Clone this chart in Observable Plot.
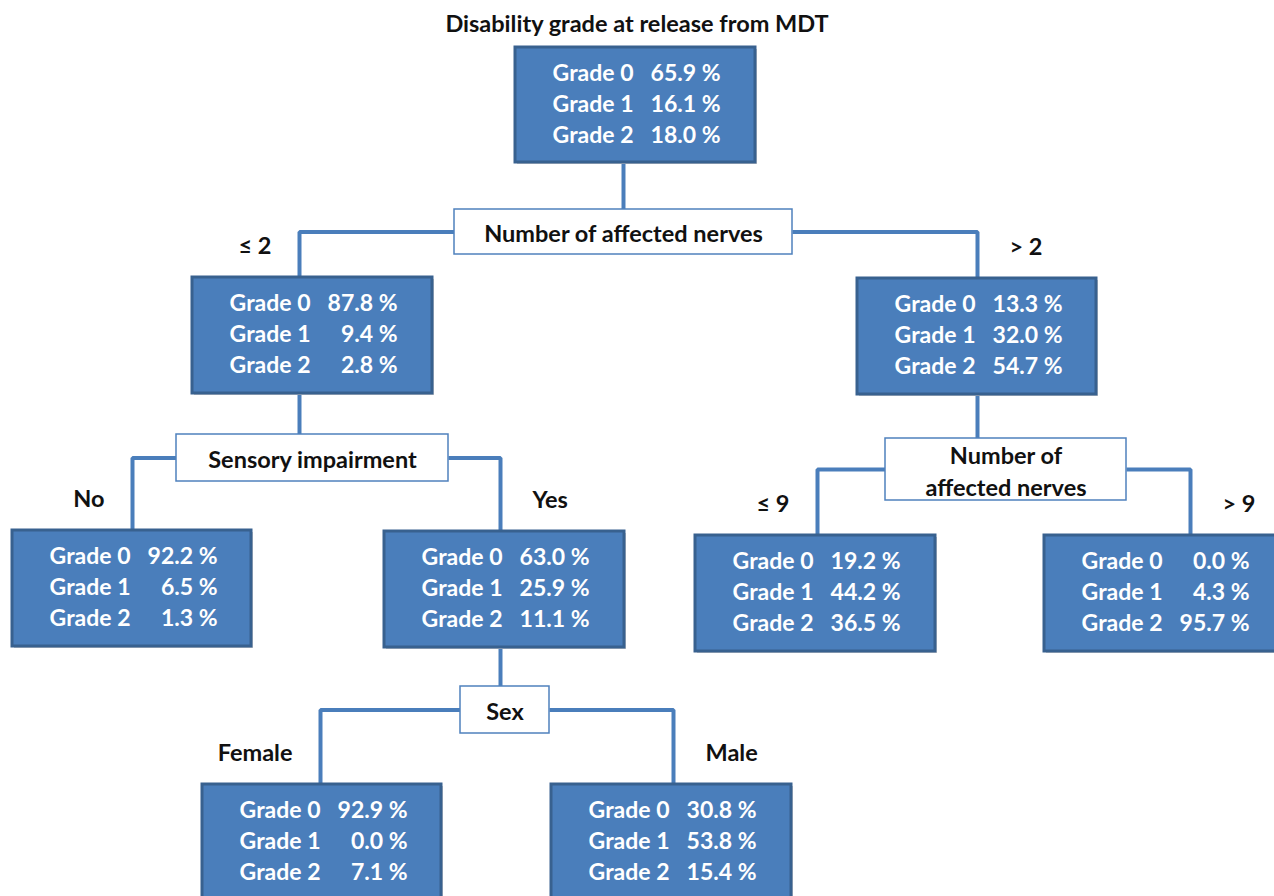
<!DOCTYPE html>
<html>
<head>
<meta charset="utf-8">
<script src="https://cdn.jsdelivr.net/npm/d3@7"></script>
<script src="https://cdn.jsdelivr.net/npm/@observablehq/plot@0.6"></script>
<style>
  html, body { margin: 0; padding: 0; background: white; overflow: hidden; }
  #title { width: 1274px; height: 40px; line-height: 46px; text-align: center;
           font-family: Lato, "Open Sans", sans-serif; font-weight: bold; font-size: 23.5px; color: #111; }
  #chart svg { overflow: visible; }
</style>
</head>
<body>
<div id="title">Disability grade at release from MDT</div>
<div id="chart"></div>
<script>
// ---- data ----
const resultIds = ["root", "le2", "gt2", "no", "yes", "le9", "gt9", "female", "male"];
const gradeLabels = ["Grade 0", "Grade 1", "Grade 2"];
const grade0 = [65.9, 87.8, 13.3, 92.2, 63.0, 19.2, 0.0, 92.9, 30.8];
const grade1 = [16.1, 9.4, 32.0, 6.5, 25.9, 44.2, 4.3, 0.0, 53.8];
const grade2 = [18.0, 2.8, 54.7, 1.3, 11.1, 36.5, 95.7, 7.1, 15.4];

const splitIds = ["sNerves", "sSensory", "sNerves9", "sSex"];
const splitTexts = ["Number of affected nerves", "Sensory impairment", "Number of\naffected nerves", "Sex"];
const splitParents = ["root", "le2", "gt2", "yes"];
const splitChildren = [["le2", "gt2"], ["no", "yes"], ["le9", "gt9"], ["female", "male"]];
const branchLabels = [["≤ 2", "> 2"], ["No", "Yes"], ["≤ 9", "> 9"], ["Female", "Male"]];

// ---- layout (diagram units) ----
const layout = {
  root:   {x1: 515, x2: 755, y1: 47,  y2: 162, lx: 623},
  le2:    {x1: 192, x2: 432, y1: 277, y2: 393, lx: 299},
  gt2:    {x1: 857, x2: 1096, y1: 278, y2: 394, lx: 977},
  no:     {x1: 12,  x2: 251, y1: 530, y2: 646, lx: 132},
  yes:    {x1: 384, x2: 624, y1: 531, y2: 647, lx: 500},
  le9:    {x1: 695, x2: 935, y1: 535, y2: 651, lx: 817},
  gt9:    {x1: 1044, x2: 1290, y1: 535, y2: 651, lx: 1190},
  female: {x1: 202, x2: 441, y1: 784, y2: 905, lx: 320},
  male:   {x1: 551, x2: 791, y1: 784, y2: 905, lx: 673},
  sNerves:  {x1: 454, x2: 792, y1: 209, y2: 254},
  sSensory: {x1: 176, x2: 448, y1: 434, y2: 481},
  sNerves9: {x1: 885, x2: 1126, y1: 438, y2: 500},
  sSex:     {x1: 460, x2: 549, y1: 686, y2: 733}
};

// ---- derived tables ----
const gradeValues = [grade0, grade1, grade2];
const boxes = resultIds.map(id => ({id, ...layout[id]}));
const gradeRows = resultIds.flatMap((id, i) => gradeLabels.map((g, j) => ({
  id, row: j, label: g, value: gradeValues[j][i].toFixed(1) + " %",
  lx: layout[id].x1 + 118, vx: layout[id].x1 + 205, y: layout[id].y1 + 26 + 31 * j
})));
const splits = splitIds.map((id, i) => ({id, text: splitTexts[i], ...layout[id],
  cx: (layout[id].x1 + layout[id].x2) / 2, cy: (layout[id].y1 + layout[id].y2) / 2}));
const edgePoints = [];
const leftLabels = [];
const rightLabels = [];
splitIds.forEach((sid, i) => {
  const s = layout[sid], p = layout[splitParents[i]];
  const my = (s.y1 + s.y2) / 2;
  edgePoints.push({edge: sid + "p", x: p.lx, y: p.y2}, {edge: sid + "p", x: p.lx, y: s.y1});
  const [l, r] = splitChildren[i].map(c => layout[c]);
  edgePoints.push({edge: sid + "l", x: s.x1, y: my}, {edge: sid + "l", x: l.lx, y: my}, {edge: sid + "l", x: l.lx, y: l.y1});
  edgePoints.push({edge: sid + "r", x: s.x2, y: my}, {edge: sid + "r", x: r.lx, y: my}, {edge: sid + "r", x: r.lx, y: r.y1});
  leftLabels.push({text: branchLabels[i][0], x: l.lx - 28, y: l.y1 - 31});
  rightLabels.push({text: branchLabels[i][1], x: r.lx + 32, y: r.y1 - 31});
});

const font = "Lato, 'Open Sans', sans-serif";
const txt = {fontWeight: "bold", fontFamily: font};
const chart = Plot.plot({
  width: 1274, height: 856, margin: 0,
  x: {domain: [0, 1274], range: [0, 1274], axis: null},
  y: {domain: [40, 896], range: [0, 856], axis: null},
  style: {fontFamily: font, background: "white"},
  marks: [
    Plot.line(edgePoints, {x: "x", y: "y", z: "edge", stroke: "#4A7EBB", strokeWidth: 4, strokeLinejoin: "miter", strokeLinecap: "butt"}),
    Plot.rect(splits, {x1: "x1", x2: "x2", y1: "y1", y2: "y2", fill: "white", stroke: "#4F81BD", strokeWidth: 1.5}),
    Plot.rect(boxes, {x1: d => d.x1 + 2, x2: d => d.x2 + 2, y1: d => d.y1 + 2, y2: d => d.y2 + 2, fill: "#c8c8c8"}),
    Plot.rect(boxes, {x1: "x1", x2: "x2", y1: "y1", y2: "y2", fill: "#4A7EBB", stroke: "#38618F", strokeWidth: 3}),
    Plot.text(gradeRows, {x: "lx", y: "y", text: "label", textAnchor: "end", fill: "white", fontSize: 23, ...txt}),
    Plot.text(gradeRows, {x: "vx", y: "y", text: "value", textAnchor: "end", fill: "white", fontSize: 23, ...txt}),
    Plot.text(splits, {x: "cx", y: "cy", text: "text", fill: "#111", fontSize: 23.5, lineHeight: 1.35, ...txt}),
    Plot.text(leftLabels, {x: "x", y: "y", text: "text", textAnchor: "end", fill: "#111", fontSize: 23.5, ...txt}),
    Plot.text(rightLabels, {x: "x", y: "y", text: "text", textAnchor: "start", fill: "#111", fontSize: 23.5, ...txt})
  ]
});
document.getElementById("chart").append(chart);
</script>
</body>
</html>
